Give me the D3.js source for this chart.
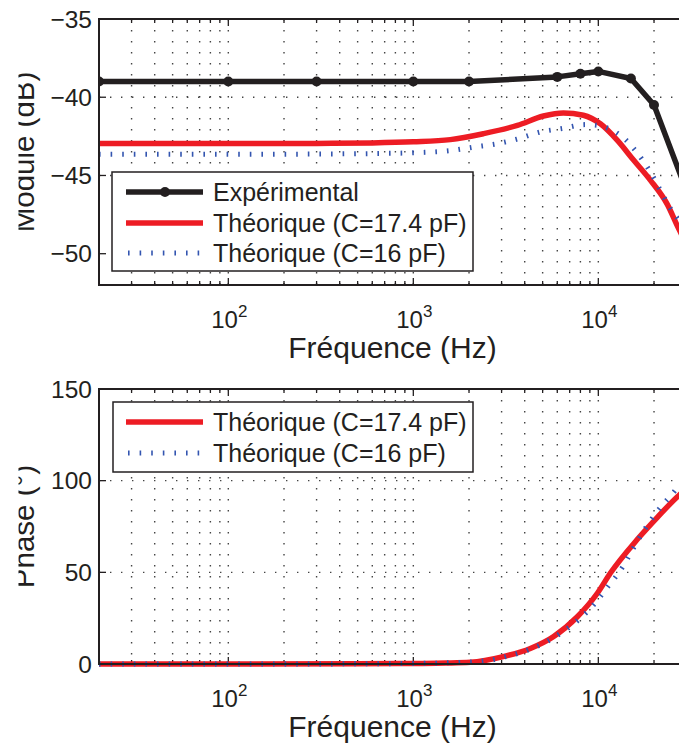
<!DOCTYPE html>
<html><head><meta charset="utf-8">
<script src="https://cdn.jsdelivr.net/npm/d3@7"></script>
<style>
body{margin:0;background:#fff}
svg{display:block}
text{font-family:"Liberation Sans",Arial,Helvetica,sans-serif;fill:#231f20}
</style>
</head><body>
<svg id="c" width="679" height="745"></svg>
<script>
// ---------- data ----------
const expFreq = [20,100,300,1000,2000,6000,8000,10000,15000,20000,30000];
const expMag  = [-39.0,-39.0,-39.0,-39.0,-39.0,-38.7,-38.5,-38.35,-38.8,-40.5,-46.0];

const magFreqA = [20,100,300,600,1000,1585,2390,3650,5050,6470,8300,10260,12680,15460,19100,23600,27050,30000];
const magA     = [-42.95,-42.95,-42.95,-42.92,-42.85,-42.71,-42.33,-41.8,-41.2,-41.0,-41.15,-41.7,-42.76,-44.0,-45.3,-46.85,-48.35,-49.4];

const magFreqB = [20,100,300,600,1000,1625,2110,2840,3700,4860,6380,8500,9880,11330,12680,14000,15460,17300,19600,21100,23900,27050,30000];
const magB     = [-43.65,-43.65,-43.63,-43.6,-43.55,-43.4,-43.19,-42.97,-42.65,-42.22,-42.0,-41.75,-41.8,-42.0,-42.3,-42.7,-43.25,-44.0,-45.0,-45.7,-46.9,-47.8,-48.7];

const phFreqA = [20,100,500,1000,1500,2030,3060,4290,5710,7700,9880,11600,16260,20850,27400,30000];
const phA     = [0,0,0.1,0.3,0.5,0.9,4.0,8.5,14.9,25.8,38.6,49.5,68,80,92.2,95.5];

const phFreqB = [20,100,500,1000,1500,2510,3265,3790,4860,6240,7800,9510,11330,13490,15460,17950,21100,25400,27400,30000];
const phB     = [0,0,0.1,0.3,0.6,1.8,4.4,6.2,10.4,16.7,24.0,32.7,42.5,52.7,63.1,74.0,84.0,93.4,97.6,101];

const magTicks = [-50,-45,-40,-35];
const phTicks  = [0,50,100,150];
const xLabelTicks = [100,1000,10000];
const legendMag = ["Expérimental","Théorique (C=17.4 pF)","Théorique (C=16 pF)"];
const legendPh  = ["Théorique (C=17.4 pF)","Théorique (C=16 pF)"];

// ---------- styles ----------
const C_EXP = "#231f20", C_RED = "#ed1c24", C_BLUE = "#3355b0";
const svg = d3.select("#c");
const x = d3.scaleLog().domain([20,30000]).range([99,686.6]);

function panel(opt){
  const {y, top, bottom, ticks, ylabel, series, legend, lg} = opt;
  const g = svg.append("g");
  const id = "clip"+top;
  svg.append("clipPath").attr("id",id).append("rect")
     .attr("x",99).attr("y",top-4).attr("width",600).attr("height",bottom-top+8);
  const ylid = "ylc"+top;
  svg.append("clipPath").attr("id",ylid).append("rect")
     .attr("x",18.5).attr("y",top-20).attr("width",80).attr("height",bottom-top+40);

  // grid: vertical at all log ticks
  const xt = x.ticks();
  g.append("g").selectAll("line").data(xt).join("line")
    .attr("x1",d=>x(d)).attr("x2",d=>x(d)).attr("y1",top).attr("y2",bottom)
    .attr("stroke","#444").attr("stroke-width",1.4).attr("stroke-dasharray","1.4,9.6");
  g.append("g").selectAll("line").data(ticks.slice(1,-1)).join("line")
    .attr("x1",99).attr("x2",690).attr("y1",d=>y(d)).attr("y2",d=>y(d))
    .attr("stroke","#444").attr("stroke-width",1.4).attr("stroke-dasharray","1.4,9.6");

  // ticks on x (top & bottom, inward)
  const maj = new Set(xLabelTicks);
  g.append("g").selectAll("line").data(xt).join("line")
    .attr("x1",d=>x(d)).attr("x2",d=>x(d)).attr("y1",bottom).attr("y2",d=>bottom-(maj.has(d)?7:4))
    .attr("stroke","#231f20").attr("stroke-width",1.3);
  g.append("g").selectAll("line").data(xt).join("line")
    .attr("x1",d=>x(d)).attr("x2",d=>x(d)).attr("y1",top).attr("y2",d=>top+(maj.has(d)?7:4))
    .attr("stroke","#231f20").attr("stroke-width",1.3);
  // ticks on y
  g.append("g").selectAll("line").data(ticks).join("line")
    .attr("x1",99).attr("x2",106).attr("y1",d=>y(d)).attr("y2",d=>y(d))
    .attr("stroke","#231f20").attr("stroke-width",1.3);

  // data
  const dg = g.append("g").attr("clip-path",`url(#${id})`);
  const line = d3.line().x(d=>x(d[0])).y(d=>y(d[1])).curve(d3.curveMonotoneX);
  const lineLin = d3.line().x(d=>x(d[0])).y(d=>y(d[1]));
  series.forEach(s=>{
    const pts = d3.zip(s.f, s.v);
    const p = dg.append("path").attr("d", s.markers ? lineLin(pts) : line(pts))
      .attr("fill","none").attr("stroke",s.color).attr("stroke-width",s.w)
      .attr("stroke-linejoin","round");
    if(s.dash) p.attr("stroke-dasharray",s.dash).attr("stroke-linecap","butt");
    if(s.markers){
      dg.append("g").selectAll("circle").data(pts).join("circle")
        .attr("cx",d=>x(d[0])).attr("cy",d=>y(d[1])).attr("r",5).attr("fill",s.color);
    }
  });

  // axes box
  g.append("path").attr("d",`M700,${top}H99V${bottom}H700`)
    .attr("fill","none").attr("stroke","#231f20").attr("stroke-width",2);

  // tick labels
  g.append("g").selectAll("text").data(ticks).join("text")
    .attr("x",92).attr("y",d=>y(d)+8.5).attr("text-anchor","end")
    .attr("font-size",24.5).text(d=>d<0?"\u2212"+Math.abs(d):d);
  const xl = g.append("g").selectAll("text").data(xLabelTicks).join("text")
    .attr("x",d=>x(d)+1).attr("y",bottom+43).attr("text-anchor","middle").attr("font-size",24);
  xl.append("tspan").text("10");
  xl.append("tspan").attr("font-size",17).attr("dy",-11).text(d=>Math.round(Math.log10(d)));

  // axis labels
  g.append("text").attr("x",392.5).attr("y",bottom+73).attr("text-anchor","middle")
    .attr("font-size",30).text("Fréquence (Hz)");
  g.append("g").attr("clip-path",`url(#${ylid})`).append("text")
    .attr("transform",`translate(34,${(top+bottom)/2}) rotate(-90)`)
    .attr("text-anchor","middle").attr("font-size",29.5).text(ylabel);

  // legend
  const L = g.append("g");
  L.append("rect").attr("x",lg.x0).attr("y",lg.y0).attr("width",lg.x1-lg.x0).attr("height",lg.y1-lg.y0)
    .attr("fill","#fff").attr("stroke","#231f20").attr("stroke-width",1.5);
  legend.forEach((name,i)=>{
    const s = series[i];
    const yy = lg.rows[i];
    const ln = L.append("line").attr("x1",126).attr("x2",203).attr("y1",yy).attr("y2",yy)
      .attr("stroke",s.color).attr("stroke-width",s.w);
    if(s.dash) ln.attr("stroke-dasharray",s.dash).attr("stroke-dashoffset",-2);
    if(s.markers) L.append("circle").attr("cx",165).attr("cy",yy).attr("r",5).attr("fill",s.color);
    L.append("text").attr("x",213).attr("y",yy+9).attr("font-size",25).text(name);
  });
}

panel({
  y: d3.scaleLinear().domain([-52,-35]).range([285,19]),
  top:19, bottom:285, ticks:magTicks, ylabel:"Module (dB)",
  series:[
    {f:expFreq, v:expMag, color:C_EXP, w:5.5, markers:true},
    {f:magFreqA, v:magA, color:C_RED, w:5.5},
    {f:magFreqB, v:magB, color:C_BLUE, w:5, dash:"1.6,10"}
  ],
  legend:legendMag,
  lg:{x0:112,x1:473,y0:172,y1:271,rows:[192,223,253]}
});
panel({
  y: d3.scaleLinear().domain([0,150]).range([664,389]),
  top:389, bottom:664, ticks:phTicks, ylabel:"Phase (°)",
  series:[
    {f:phFreqA, v:phA, color:C_RED, w:5.5},
    {f:phFreqB, v:phB, color:C_BLUE, w:5, dash:"1.6,10"}
  ],
  legend:legendPh,
  lg:{x0:113,x1:473,y0:402,y1:472,rows:[422,453]}
});
</script>
</body></html>
